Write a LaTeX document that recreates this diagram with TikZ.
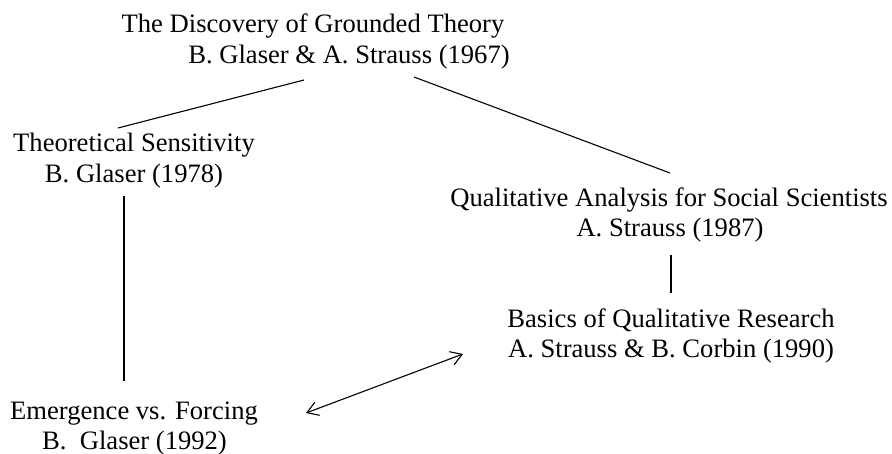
\documentclass[tikz,border=0pt]{standalone}
\usepackage{fontspec}
\setmainfont{Liberation Serif}
\usetikzlibrary{arrows.meta}
\begin{document}
\begin{tikzpicture}[x=1pt,y=-1pt,
  txt/.style={anchor=base,inner sep=0pt,font=\fontsize{26.6}{31}\selectfont},
  link/.style={line width=1.1pt,black},
  barb/.style={line width=1.1pt,{Straight Barb[length=11pt,width=14pt]}-{Straight Barb[length=11pt,width=14pt]}}]
\useasboundingbox (0,0) rectangle (892,454);
% texts
\node[txt] (top1) at (313,33) {The Discovery of Grounded Theory};
\node[txt] (top2) at (349,64) {B. Glaser \& A. Strauss (1967)};
\node[txt] (ts1) at (134,152) {Theoretical Sensitivity};
\node[txt] (ts2) at (134,183) {B. Glaser (1978)};
\node[txt] (qa1) at (669,207) {Qualitative Analysis for Social Scientists};
\node[txt] (qa2) at (670,237) {A. Strauss (1987)};
\node[txt] (bq1) at (671,328) {Basics of Qualitative Research};
\node[txt] (bq2) at (671,358) {A. Strauss \& B. Corbin (1990)};
\node[txt] (ef1) at (134,419) {Emergence vs. Forcing};
\node[txt] (ef2) at (134.5,449) {B.\ \ Glaser (1992)};
% connector ends
\coordinate (topL) at (304,80);
\coordinate (tsT) at (118,128);
\coordinate (topR) at (414,77);
\coordinate (qaT) at (670,173);
\coordinate (tsB) at (124,196);
\coordinate (efT) at (124,381);
\coordinate (qaB) at (671,255);
\coordinate (bqT) at (671,293);
\coordinate (efR) at (306,413);
\coordinate (bqL) at (463,354);
% connectors
\draw[link] (topL) -- (tsT);
\draw[link] (topR) -- (qaT);
\draw[link] (tsB) -- (efT);
\draw[link] (qaB) -- (bqT);
\draw[barb] (efR) -- (bqL);
\end{tikzpicture}
\end{document}
